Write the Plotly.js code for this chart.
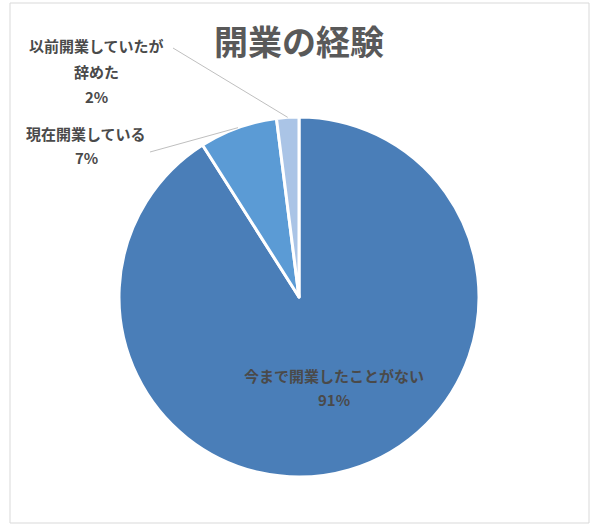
<!DOCTYPE html>
<html>
<head>
<meta charset="utf-8">
<script src="https://cdn.plot.ly/plotly-3.0.1.min.js"></script>
<style>
  html, body { margin: 0; padding: 0; background: #fff; }
  #chart { width: 600px; height: 528px; }
</style>
</head>
<body>
<div id="chart"></div>
<script>
// 開業の経験
const labels = ['今まで開業したことがない', '現在開業している', '以前開業していたが<br>辞めた'];
const values = [91, 7, 2];
const colors = ['#4a7eb8', '#5b9bd5', '#aac4e6'];

const W = 600, H = 528;
const cx = 299, cy = 297, r = 180;
const font = '"Noto Sans CJK JP", "Noto Sans", sans-serif';

const total = values.reduce((a, b) => a + b, 0);
const pct = values.map(v => Math.round(v / total * 100) + '%');

// point on the rim at the middle of slice i (clockwise from 12 o'clock)
const rimPoint = (i) => {
	const before = values.slice(0, i).reduce((a, b) => a + b, 0);
	const ang = (before + values[i] / 2) / total * 2 * Math.PI;
	return [cx + r * Math.sin(ang), cy - r * Math.cos(ang)];
};

const px = (x) => x / W;
const py = (y) => 1 - y / H;

// where each label block is centred, its line gap, and where its leader line begins
const labelPos = [[334, 387], [86, 145], [96, 71]];
const lineGap = [24, 24, 25.5];
const leaderFrom = [null, [150, 152], [173, 48]];

const annotations = [{
	xref: 'paper', yref: 'paper', xanchor: 'center', yanchor: 'middle',
	x: px(299), y: py(41),
	text: '開業の経験', showarrow: false,
	font: { family: font, size: 34, color: '#595959', weight: 'bold' },
}];
const shapes = [{
	type: 'rect', xref: 'paper', yref: 'paper',
	x0: px(10), x1: px(589), y0: py(523), y1: py(3),
	line: { color: '#d9d9d9', width: 1 },
}];

labels.forEach((lab, i) => {
	const lines = lab.split('<br>').concat([pct[i]]);
	const top = labelPos[i][1] - (lines.length - 1) * lineGap[i] / 2;
	lines.forEach((t, k) => {
		annotations.push({
			xref: 'paper', yref: 'paper', xanchor: 'center', yanchor: 'middle',
			x: px(labelPos[i][0]), y: py(top + k * lineGap[i]),
			text: t, showarrow: false,
			font: { family: font, size: 15, color: '#4a4a4a', weight: 'bold' },
		});
	});
	if (leaderFrom[i]) {
		const tip = rimPoint(i);
		shapes.push({
			type: 'line', xref: 'paper', yref: 'paper',
			x0: px(leaderFrom[i][0]), y0: py(leaderFrom[i][1]),
			x1: px(tip[0]), y1: py(tip[1]),
			line: { color: '#bfbfbf', width: 1 },
		});
	}
});

Plotly.newPlot('chart', [{
	type: 'pie',
	labels: labels,
	values: values,
	sort: false,
	direction: 'clockwise',
	rotation: 0,
	textinfo: 'none',
	marker: { colors: colors, line: { color: '#ffffff', width: 3 } },
	domain: { x: [px(cx - r), px(cx + r)], y: [py(cy + r), py(cy - r)] },
	hoverinfo: 'label+percent',
}], {
	width: W,
	height: H,
	margin: { l: 0, r: 0, t: 0, b: 0 },
	paper_bgcolor: '#ffffff',
	showlegend: false,
	annotations: annotations,
	shapes: shapes,
}, { displayModeBar: false });
</script>
</body>
</html>
